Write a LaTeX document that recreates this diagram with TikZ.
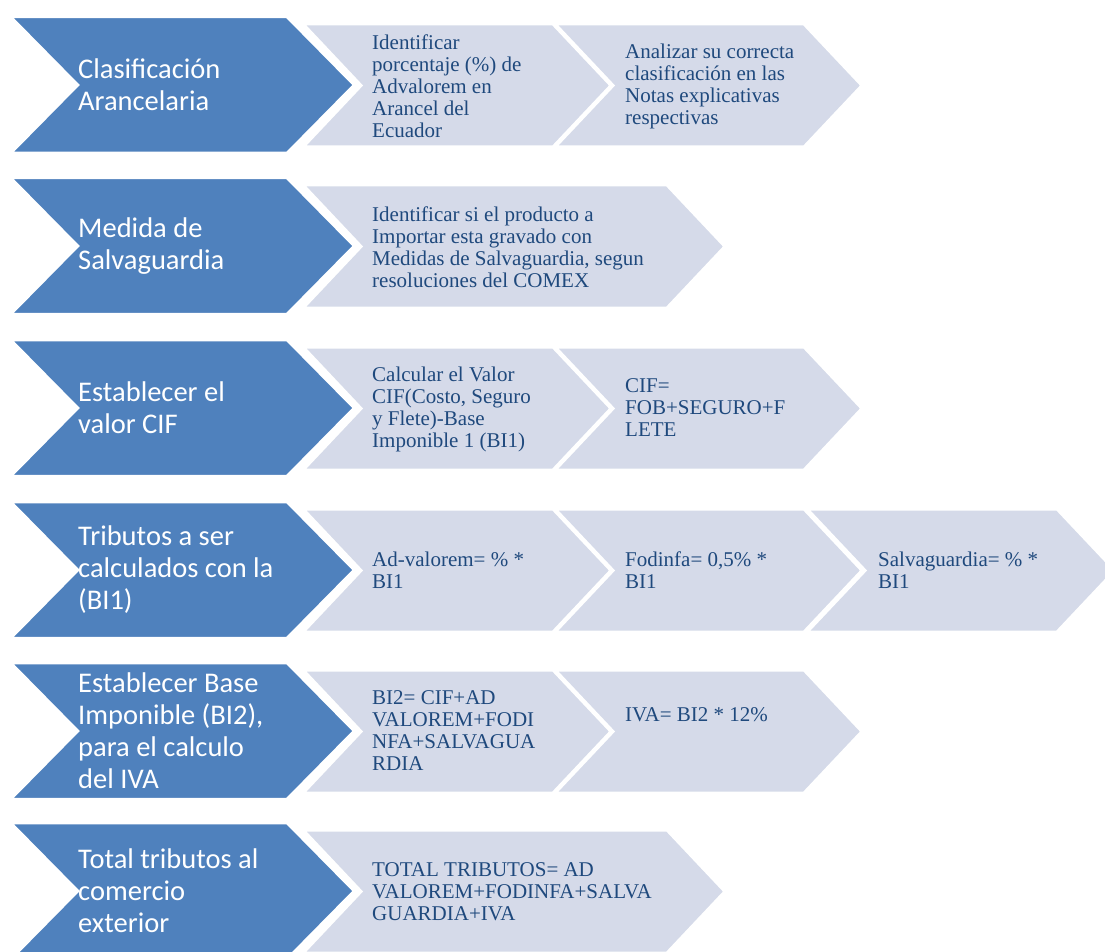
\documentclass[tikz,border=0pt]{standalone}
\usepackage{fontspec}
\newfontfamily\chevsans{Carlito}
\newfontfamily\chevserif{Liberation Serif}
\definecolor{chevblue}{RGB}{79,129,189}
\definecolor{chevgrey}{RGB}{213,218,233}
\definecolor{chevtext}{RGB}{31,73,125}
\newcommand{\chev}[6]{\filldraw[#1] (#2,#3) -- ++(#4,0) -- ++(#6,#5/2) -- ++(-#6,#5/2) -- ++(-#4,0) -- ++(#6,-#5/2) -- cycle;}

\begin{document}
\begin{tikzpicture}[x=1pt,y=-1pt]
        \tikzstyle{every node}=[inner sep=0pt, anchor=west, align=left]
        \tikzstyle{title}=[font={\chevsans\fontsize{28.5}{32}\selectfont}, text=white]
        \tikzstyle{detail}=[font={\chevserif\fontsize{21}{22}\selectfont}, text=chevtext]
        \tikzstyle{bluechev}=[fill=chevblue, draw=white, line width=2.5pt]
        \tikzstyle{greychev}=[fill=chevgrey, draw=white, line width=3pt]
        \useasboundingbox (0,0) rectangle (1105,952);
        \clip (0,0) rectangle (1105,952);

        \chev{greychev}{303}{24}{250}{123}{58}
        \chev{greychev}{555}{24}{249}{123}{58}
        \chev{bluechev}{11}{17}{276}{136}{67}
        \node[title] (clasif) at (78,85) {Clasificación\\Arancelaria};
        \node[detail] (advalorem) at (372,86) {Identificar\\porcentaje (\%) de\\Advalorem en\\Arancel del\\Ecuador};
        \node[detail] (notas) at (625,86) {Analizar su correcta\\clasificación en las\\Notas explicativas\\respectivas};

        \chev{greychev}{303}{185}{364}{123}{58}
        \chev{bluechev}{11}{178}{276}{136}{67}
        \node[title] (medida) at (78,246) {Medida de\\Salvaguardia};
        \node[detail] (comex) at (372,247) {Identificar si el producto a\\Importar esta gravado con\\Medidas de Salvaguardia, segun\\resoluciones del COMEX};

        \chev{greychev}{303}{347}{250}{123}{58}
        \chev{greychev}{555}{347}{249}{123}{58}
        \chev{bluechev}{11}{340}{276}{136}{67}
        \node[title] (valorcif) at (78,408) {Establecer el\\valor CIF};
        \node[detail] (calcif) at (372,409) {Calcular el Valor\\CIF(Costo, Seguro\\y Flete)-Base\\Imponible 1 (BI1)};
        \node[detail] (formcif) at (625,408) {CIF=\\FOB+SEGURO+F\\LETE};

        \chev{greychev}{303}{509}{250}{123}{58}
        \chev{greychev}{555}{509}{249}{123}{58}
        \chev{greychev}{807}{509}{250}{123}{58}
        \chev{bluechev}{11}{502}{276}{136}{67}
        \node[title] (tributos) at (78,570) {Tributos a ser\\calculados con la\\(BI1)};
        \node[detail] (adval) at (372,570) {Ad-valorem= \% *\\BI1};
        \node[detail] (fodinfa) at (625,570) {Fodinfa= 0,5\% *\\BI1};
        \node[detail] (salvag) at (878,570) {Salvaguardia= \% *\\BI1};

        \chev{greychev}{303}{670}{250}{123}{58}
        \chev{greychev}{555}{670}{249}{123}{58}
        \chev{bluechev}{11}{663}{276}{136}{67}
        \node[title] (base) at (78,731) {Establecer Base\\Imponible (BI2),\\para el calculo\\del IVA};
        \node[detail] (bidos) at (372,731) {BI2= CIF+AD\\VALOREM+FODI\\NFA+SALVAGUA\\RDIA};
        \node[detail] (iva) at (625,715) {IVA= BI2 * 12\%};

        \chev{greychev}{303}{830}{364}{123}{58}
        \chev{bluechev}{11}{823}{276}{136}{67}
        \node[title] (total) at (78,891) {Total tributos al\\comercio\\exterior};
        \node[detail] (totaltrib) at (372,892) {TOTAL TRIBUTOS= AD\\VALOREM+FODINFA+SALVA\\GUARDIA+IVA};
\end{tikzpicture}
\end{document}
